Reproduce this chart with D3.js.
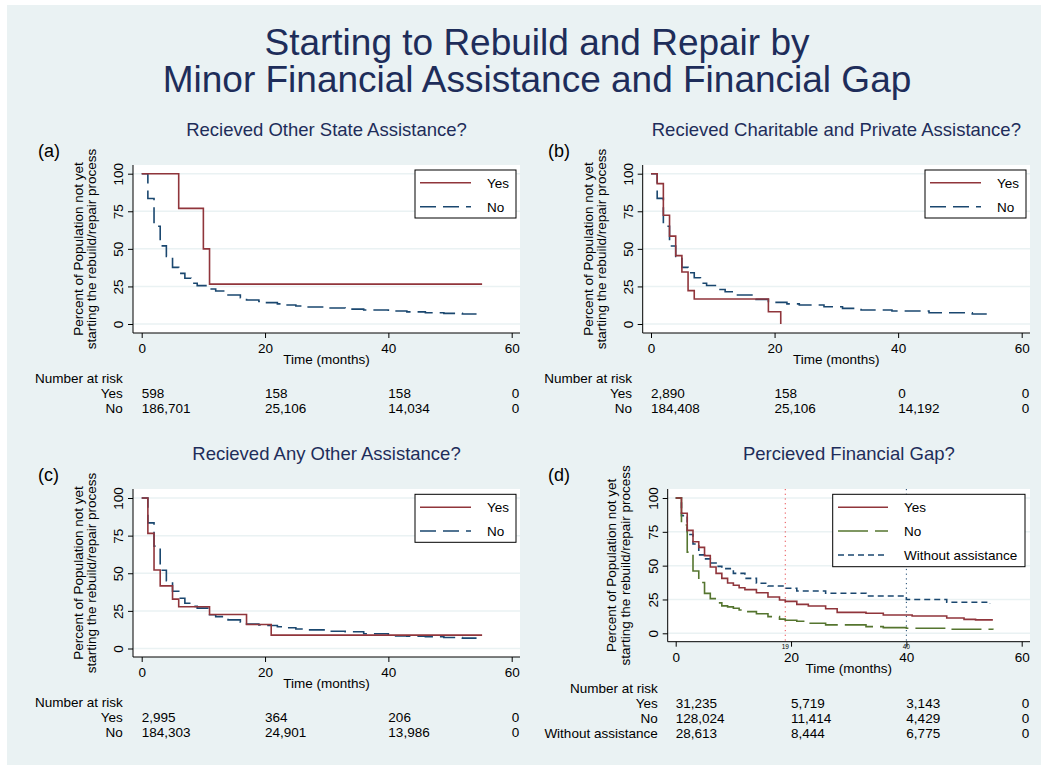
<!DOCTYPE html>
<html>
<head>
<meta charset="utf-8">
<script src="https://cdn.jsdelivr.net/npm/d3@7"></script>
<style>
  body { margin: 0; background: #fff; }
  svg { display: block; font-family: "Liberation Sans", Arial, Helvetica, sans-serif; }
</style>
</head>
<body>
<svg id="chart" width="1047" height="770"></svg>
<script>
// shared axis values
const xTicks = [0, 20, 40, 60]
const yTicks = [0, 25, 50, 75, 100]

// (a) Recieved Other State Assistance?
const aYesTime = [0, 6, 10, 11, 55.2]
const aYesPct = [100, 76.9, 50, 26.5, 26.5]
const aNoTime = [0, 1, 2, 3, 4, 5, 6, 7, 8, 9, 11, 12, 14, 16, 17, 19, 20, 22, 23, 25, 27, 30, 33, 36, 40, 43, 46, 49, 52, 54.3]
const aNoPct = [100, 83.5, 65, 52, 45, 37.7, 33.7, 30.4, 27.1, 25.5, 23.3, 22, 19.3, 17.5, 16, 15, 14.2, 13.4, 12.6, 12, 11.3, 10.6, 9.9, 9.3, 8.6, 8.1, 7.5, 7.1, 6.7, 6.7]
const aRiskYes = [598, 158, 158, 0]
const aRiskNo = [186701, 25106, 14034, 0]

// (b) Recieved Charitable and Private Assistance?
const bYesTime = [0, 1, 2, 3, 4, 5, 6, 7, 19, 21]
const bYesPct = [100, 93.4, 72.4, 58.5, 45.5, 34.6, 22.2, 16.6, 8.2, 0]
const bNoTime = [0, 1, 2, 3, 4, 5, 6, 7, 8, 9, 11, 12, 14, 17, 19, 22, 24, 28, 31, 34, 39, 45, 52, 54.5]
const bNoPct = [100, 83.6, 65, 51.9, 45, 37.7, 34.1, 30.8, 27.1, 25.6, 23, 21.5, 19.3, 16.4, 14.4, 13.4, 12.6, 11.5, 10.4, 9.3, 8.6, 7.5, 6.7, 6.7]
const bRiskYes = [2890, 158, 0, 0]
const bRiskNo = [184408, 25106, 14192, 0]

// (c) Recieved Any Other Assistance?
const cYesTime = [0, 1, 2, 3, 5, 6, 11, 17, 21, 55.2]
const cYesPct = [100, 76.5, 52.2, 41.6, 32.8, 27.7, 22.6, 15.9, 8.9, 8.9]
const cNoTime = [0, 1, 2, 3, 4, 5, 6, 7, 8, 9, 11, 12, 14, 16, 17, 19, 20, 22, 23, 25, 27, 30, 33, 36, 40, 43, 46, 49, 52, 54.3]
const cNoPct = [100, 83.5, 68, 52, 45, 38, 33.4, 30.1, 28, 26.8, 22.4, 21.2, 19, 17.5, 16.3, 15.6, 15.3, 14.5, 13.8, 13, 12.4, 11.5, 11.1, 9.8, 8.4, 8.1, 7.8, 7.3, 6.9, 6.9]
const cRiskYes = [2995, 364, 206, 0]
const cRiskNo = [184303, 24901, 13986, 0]

// (d) Percieved Financial Gap?
const dYesTime = [0, 1, 2, 3, 4, 5, 6, 7, 8, 9, 10, 11, 12, 14, 16, 18, 19, 21, 23, 26, 28, 33, 36, 41, 47, 50, 52, 55]
const dYesPct = [100, 88.7, 76.1, 67.7, 63.5, 57.4, 49, 44.3, 40.6, 37.2, 35.5, 33.7, 32.3, 30, 26.8, 24.6, 23.6, 21.4, 20.2, 18.2, 15.5, 14.8, 13.5, 12.8, 11.3, 10.3, 9.9, 9.9]
const dNoTime = [0, 1, 2, 3, 4, 5, 6, 7, 8, 9, 10, 11, 12, 14, 16, 18, 19, 21, 23, 26, 33, 36, 40, 47, 55]
const dNoPct = [100, 80, 60, 46, 37.5, 29.5, 25.6, 22.5, 20.3, 19.5, 18.5, 17.2, 16, 14.5, 12.3, 10.5, 9.6, 8.9, 7.4, 6.2, 4.9, 4.2, 3.7, 3, 2.7]
const dWoTime = [0, 1, 2, 3, 4, 5, 6, 7, 8, 10, 12, 14, 16, 19, 21, 26, 33, 40, 47, 54.5]
const dWoPct = [100, 87, 73, 66, 58, 55, 52, 49.5, 47.8, 44.3, 40.6, 37, 35, 33.3, 31.3, 29.6, 27.6, 25, 22.9, 21.7]
const dRiskYes = [31235, 5719, 3143, 0]
const dRiskNo = [128024, 11414, 4429, 0]
const dRiskWo = [28613, 8444, 6775, 0]
const dRefLines = [19, 40]

const titleLines = ["Starting to Rebuild and Repair by", "Minor Financial Assistance and Financial Gap"]
const yTitleLines = ["Percent of Population not yet", "starting the rebuild/repair process"]

const maroon = "#90353b"
const navy = "#1a476f"
const green = "#55752f"
const bg = "#eaf2f3"
const titleColor = "#1e2d5a"

const zip = (t, p) => t.map((d, i) => ({ t: d, p: p[i] }))

const panels = [
  {
    tag: "(a)", subtitle: "Recieved Other State Assistance?",
    left: 133, right: 520, top: 165, bottom: 333, x0: 141.7, x60: 511.7, y0: 324, y100: 173.7,
    tagX: 38, labelRight: 122.7, yTitleX: [82.5, 96], riskY: 383,
    legend: { x: 415, y: 170, w: 101, h: 48, rowY: [182.7, 206.7], lx: [420, 471], tx: 487 },
    series: [
      { name: "Yes", data: zip(aYesTime, aYesPct), color: maroon, dash: null, risk: aRiskYes },
      { name: "No", data: zip(aNoTime, aNoPct), color: navy, dash: "16,7", risk: aRiskNo }
    ]
  },
  {
    tag: "(b)", subtitle: "Recieved Charitable and Private Assistance?",
    left: 642.7, right: 1030, top: 165, bottom: 333, x0: 651, x60: 1021.7, y0: 324, y100: 173.7,
    tagX: 548, labelRight: 632, yTitleX: [592.5, 606], riskY: 383,
    legend: { x: 925, y: 170, w: 101, h: 48, rowY: [182.7, 206.7], lx: [930, 981], tx: 997 },
    series: [
      { name: "Yes", data: zip(bYesTime, bYesPct), color: maroon, dash: null, risk: bRiskYes },
      { name: "No", data: zip(bNoTime, bNoPct), color: navy, dash: "16,7", risk: bRiskNo }
    ]
  },
  {
    tag: "(c)", subtitle: "Recieved Any Other Assistance?",
    left: 133, right: 520, top: 489, bottom: 657, x0: 141.7, x60: 511.7, y0: 648.5, y100: 498,
    tagX: 38, labelRight: 122.7, yTitleX: [82.5, 96], riskY: 707,
    legend: { x: 415, y: 494.3, w: 101, h: 48, rowY: [507.3, 531], lx: [420, 471], tx: 487 },
    series: [
      { name: "Yes", data: zip(cYesTime, cYesPct), color: maroon, dash: null, risk: cRiskYes },
      { name: "No", data: zip(cNoTime, cNoPct), color: navy, dash: "16,7", risk: cRiskNo }
    ]
  },
  {
    tag: "(d)", subtitle: "Percieved Financial Gap?",
    left: 667.7, right: 1030, top: 489, bottom: 641.7, x0: 675.7, x60: 1021.7, y0: 633.3, y100: 498,
    tagX: 548, labelRight: 657.7, yTitleX: [616, 629.5], riskY: 692.5,
    legend: { x: 832.7, y: 494.3, w: 192.3, h: 72.4, rowY: [507.3, 531, 555], lx: [838, 888], tx: 904 },
    refLines: dRefLines,
    series: [
      { name: "Yes", data: zip(dYesTime, dYesPct), color: maroon, dash: null, risk: dRiskYes },
      { name: "No", data: zip(dNoTime, dNoPct), color: green, dash: "30,7", risk: dRiskNo },
      { name: "Without assistance", data: zip(dWoTime, dWoPct), color: navy, dash: "6,4", risk: dRiskWo }
    ]
  }
]

const svg = d3.select("#chart")
const fmt = d3.format(",")

svg.append("rect")
  .attr("x", 7).attr("y", 5)
  .attr("width", 1034).attr("height", 760)
  .attr("fill", bg)

svg.append("g")
  .selectAll("text")
  .data(titleLines)
  .enter().append("text")
  .attr("x", 537)
  .attr("y", (d, i) => 55 + i * 37)
  .attr("text-anchor", "middle")
  .attr("font-size", 37)
  .attr("fill", titleColor)
  .text(d => d)

function drawPanel(p) {
  const g = svg.append("g")
  const x = d3.scaleLinear().domain([0, 60]).range([p.x0, p.x60])
  const y = d3.scaleLinear().domain([0, 100]).range([p.y0, p.y100])
  const midX = (p.left + p.right) / 2
  const midY = (p.top + p.bottom) / 2

  g.append("text")
    .attr("x", midX).attr("y", p.top - 29)
    .attr("text-anchor", "middle")
    .attr("font-size", 18.5)
    .attr("fill", titleColor)
    .text(p.subtitle)

  g.append("text")
    .attr("x", p.tagX).attr("y", p.top - 8)
    .attr("font-size", 18)
    .text(p.tag)

  // plot region
  g.append("rect")
    .attr("x", p.left).attr("y", p.top)
    .attr("width", p.right - p.left).attr("height", p.bottom - p.top)
    .attr("fill", "#fff")

  g.append("g")
    .selectAll("line")
    .data(yTicks)
    .enter().append("line")
    .attr("x1", p.left).attr("x2", p.right)
    .attr("y1", d => y(d)).attr("y2", d => y(d))
    .attr("stroke", bg)
    .attr("stroke-width", 1.5)

  if (p.refLines) {
    const refColors = [d3.rgb(232, 70, 75), navy]
    g.append("g")
      .selectAll("line")
      .data(p.refLines)
      .enter().append("line")
      .attr("x1", d => x(d)).attr("x2", d => x(d))
      .attr("y1", p.top).attr("y2", p.bottom)
      .attr("stroke", (d, i) => refColors[i])
      .attr("stroke-width", 1)
      .attr("stroke-dasharray", "1.2,3.5")
    // small xline labels sit just under the axis, above the tick labels
    g.append("g")
      .selectAll("text")
      .data(p.refLines)
      .enter().append("text")
      .attr("x", d => x(d)).attr("y", p.bottom + 7)
      .attr("text-anchor", "middle")
      .attr("font-size", 6.5)
      .text(d => d)
  }

  const line = d3.line()
    .curve(d3.curveStepAfter)
    .x(d => x(d.t))
    .y(d => y(d.p))

  // draw so that the first series ends on top
  p.series.slice().reverse().forEach(s => {
    g.append("path")
      .datum(s.data)
      .attr("fill", "none")
      .attr("stroke", s.color)
      .attr("stroke-width", 1.6)
      .attr("stroke-dasharray", s.dash)
      .attr("d", line)
  })

  // axes
  const xAxis = g.append("g")
    .attr("transform", `translate(0,${p.bottom})`)
    .call(d3.axisBottom(x).tickValues(xTicks).tickSize(5))
  xAxis.select(".domain").remove()
  xAxis.selectAll("text").attr("y", 20).attr("dy", 0).attr("font-size", 13.5).attr("font-family", null)

  const yAxis = g.append("g")
    .attr("transform", `translate(${p.left},0)`)
    .call(d3.axisLeft(y).tickValues(yTicks).tickSize(5))
  yAxis.select(".domain").remove()
  yAxis.selectAll("text")
    .attr("transform", "rotate(-90)")
    .attr("x", 0).attr("y", -10).attr("dy", 0)
    .attr("text-anchor", "middle")
    .attr("font-size", 13.5)
    .attr("font-family", null)

  g.append("path")
    .attr("d", `M${p.left},${p.top}V${p.bottom}H${p.right}`)
    .attr("fill", "none")
    .attr("stroke", "#000")

  g.append("text")
    .attr("x", midX).attr("y", p.bottom + 31)
    .attr("text-anchor", "middle")
    .attr("font-size", 13.5)
    .text("Time (months)")

  g.append("g")
    .selectAll("text")
    .data(yTitleLines)
    .enter().append("text")
    .attr("transform", (d, i) => `translate(${p.yTitleX[i]},${midY}) rotate(-90)`)
    .attr("text-anchor", "middle")
    .attr("font-size", 13.5)
    .text(d => d)

  // legend
  const L = p.legend
  const lg = g.append("g")
  lg.append("rect")
    .attr("x", L.x).attr("y", L.y)
    .attr("width", L.w).attr("height", L.h)
    .attr("fill", "#fff").attr("stroke", "#000")
  p.series.forEach((s, i) => {
    lg.append("line")
      .attr("x1", L.lx[0]).attr("x2", L.lx[1])
      .attr("y1", L.rowY[i]).attr("y2", L.rowY[i])
      .attr("stroke", s.color)
      .attr("stroke-width", 1.6)
      .attr("stroke-dasharray", s.dash)
    lg.append("text")
      .attr("x", L.tx).attr("y", L.rowY[i] + 5)
      .attr("font-size", 13.5)
      .text(s.name)
  })

  // number at risk table
  const rt = g.append("g").attr("font-size", 13.5)
  rt.append("text")
    .attr("x", p.labelRight).attr("y", p.riskY)
    .attr("text-anchor", "end")
    .text("Number at risk")
  p.series.forEach((s, i) => {
    const ry = p.riskY + 15 * (i + 1)
    rt.append("text")
      .attr("x", p.labelRight).attr("y", ry)
      .attr("text-anchor", "end")
      .text(s.name)
    rt.selectAll(null)
      .data(s.risk)
      .enter().append("text")
      .attr("x", (d, j) => x(xTicks[j]))
      .attr("y", ry)
      .text(d => fmt(d))
  })
}

panels.forEach(drawPanel)
</script>
</body>
</html>
